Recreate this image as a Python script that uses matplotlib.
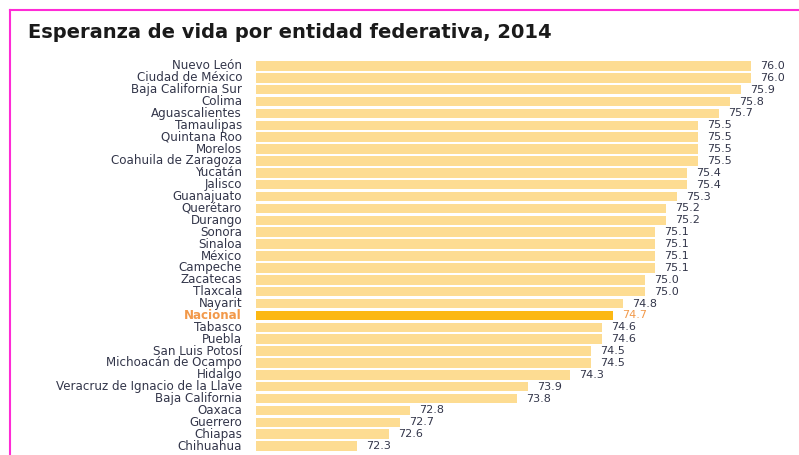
import numpy as np
import matplotlib.pyplot as plt

# datos: esperanza de vida por entidad federativa, 2014
entidades = ['Nuevo León', 'Ciudad de México', 'Baja California Sur', 'Colima',
             'Aguascalientes', 'Tamaulipas', 'Quintana Roo', 'Morelos',
             'Coahuila de Zaragoza', 'Yucatán', 'Jalisco', 'Guanajuato',
             'Querétaro', 'Durango', 'Sonora', 'Sinaloa', 'México', 'Campeche',
             'Zacatecas', 'Tlaxcala', 'Nayarit', 'Nacional', 'Tabasco', 'Puebla',
             'San Luis Potosí', 'Michoacán de Ocampo', 'Hidalgo',
             'Veracruz de Ignacio de la Llave', 'Baja California', 'Oaxaca',
             'Guerrero', 'Chiapas', 'Chihuahua']
valores = [76.0, 76.0, 75.9, 75.8, 75.7, 75.5, 75.5, 75.5, 75.5, 75.4, 75.4,
           75.3, 75.2, 75.2, 75.1, 75.1, 75.1, 75.1, 75.0, 75.0, 74.8, 74.7,
           74.6, 74.6, 74.5, 74.5, 74.3, 73.9, 73.8, 72.8, 72.7, 72.6, 72.3]

c_barra = '#FDDC92'
c_nac = '#FCB813'
c_texto = '#33364A'
c_naranja = '#F2994A'

fig = plt.figure(figsize=(7.99, 4.55), dpi=100)
ax = fig.add_axes([256/799, 1 - 452/455, (790 - 256)/799, 392/455])

x0 = 71.35
y = np.arange(len(entidades))
colores = [c_nac if e == 'Nacional' else c_barra for e in entidades]
ax.barh(y, np.array(valores) - x0, left=x0, height=0.8, color=colores, edgecolor='none')

ax.set_xlim(x0, x0 + 534/106.5)
ax.set_ylim(len(entidades) - 0.5, -0.5)
ax.axis('off')

for i, (e, v) in enumerate(zip(entidades, valores)):
    col = c_naranja if e == 'Nacional' else c_texto
    ax.annotate(f'{v:.1f}', (v, i), xytext=(6.5, 0), textcoords='offset points',
                ha='left', va='center', fontsize=8, color=col, clip_on=False)
    ax.annotate(e, (x0, i), xytext=(-10, 0), textcoords='offset points',
                ha='right', va='center', fontsize=8.6, color=col, clip_on=False,
                fontweight='bold' if e == 'Nacional' else 'normal')

fig.text(28/799, 1 - 33/455, 'Esperanza de vida por entidad federativa, 2014',
         fontsize=14, fontweight='bold', color='#1A1A1A', va='center', ha='left')

# marco magenta
fig.add_artist(plt.Line2D([10/799, 10/799], [0, 1 - 10/455], color='#FF2BD6', lw=1.5))
fig.add_artist(plt.Line2D([10/799, 1], [1 - 10/455, 1 - 10/455], color='#FF2BD6', lw=1.5))

fig.savefig('out.png', dpi=100)
